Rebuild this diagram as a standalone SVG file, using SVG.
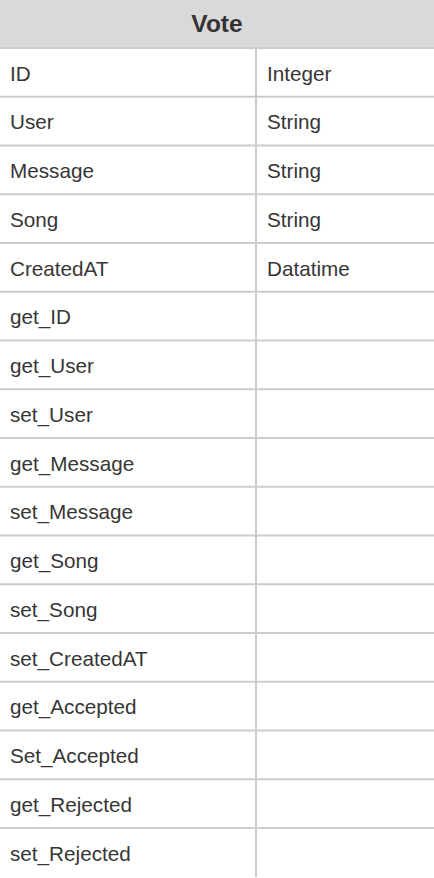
<svg xmlns="http://www.w3.org/2000/svg" width="434" height="878" viewBox="0 0 434 878">
<style>
.t{font-family:"Liberation Sans",Arial,sans-serif;font-size:20.7px;fill:#363636}
.h{font-family:"Liberation Sans",Arial,sans-serif;font-size:24.5px;font-weight:bold;fill:#333}
.l{stroke:#cccccc;stroke-width:2;fill:none}
</style>
<rect x="0" y="0" width="434" height="878" fill="#ffffff"/>
<g id="header">
<rect x="0" y="0" width="434" height="48" fill="#d9d9d9"/>
<text class="h" x="217" y="31.5" text-anchor="middle">Vote</text>
</g>
<g id="grid">
<line class="l" x1="0" y1="48" x2="434" y2="48"/>
<line class="l" x1="0" y1="96.75" x2="434" y2="96.75"/>
<line class="l" x1="0" y1="145.5" x2="434" y2="145.5"/>
<line class="l" x1="0" y1="194.25" x2="434" y2="194.25"/>
<line class="l" x1="0" y1="243" x2="434" y2="243"/>
<line class="l" x1="0" y1="291.75" x2="434" y2="291.75"/>
<line class="l" x1="0" y1="340.5" x2="434" y2="340.5"/>
<line class="l" x1="0" y1="389.25" x2="434" y2="389.25"/>
<line class="l" x1="0" y1="438" x2="434" y2="438"/>
<line class="l" x1="0" y1="486.75" x2="434" y2="486.75"/>
<line class="l" x1="0" y1="535.5" x2="434" y2="535.5"/>
<line class="l" x1="0" y1="584.25" x2="434" y2="584.25"/>
<line class="l" x1="0" y1="633" x2="434" y2="633"/>
<line class="l" x1="0" y1="681.75" x2="434" y2="681.75"/>
<line class="l" x1="0" y1="730.5" x2="434" y2="730.5"/>
<line class="l" x1="0" y1="779.25" x2="434" y2="779.25"/>
<line class="l" x1="0" y1="828" x2="434" y2="828"/>
<line class="l" x1="256" y1="48" x2="256" y2="877"/>
</g>
<g id="rows">
<text class="t" x="10" y="80.5">ID</text><text class="t" x="267" y="80.5">Integer</text>
<text class="t" x="10" y="129.25">User</text><text class="t" x="267" y="129.25">String</text>
<text class="t" x="10" y="178">Message</text><text class="t" x="267" y="178">String</text>
<text class="t" x="10" y="226.75">Song</text><text class="t" x="267" y="226.75">String</text>
<text class="t" x="10" y="275.5">CreatedAT</text><text class="t" x="267" y="275.5">Datatime</text>
<text class="t" x="10" y="324.25">get_ID</text>
<text class="t" x="10" y="373">get_User</text>
<text class="t" x="10" y="421.75">set_User</text>
<text class="t" x="10" y="470.5">get_Message</text>
<text class="t" x="10" y="519.25">set_Message</text>
<text class="t" x="10" y="568">get_Song</text>
<text class="t" x="10" y="616.75">set_Song</text>
<text class="t" x="10" y="665.5">set_CreatedAT</text>
<text class="t" x="10" y="714.25">get_Accepted</text>
<text class="t" x="10" y="763">Set_Accepted</text>
<text class="t" x="10" y="811.75">get_Rejected</text>
<text class="t" x="10" y="860.5">set_Rejected</text>
</g>
</svg>
